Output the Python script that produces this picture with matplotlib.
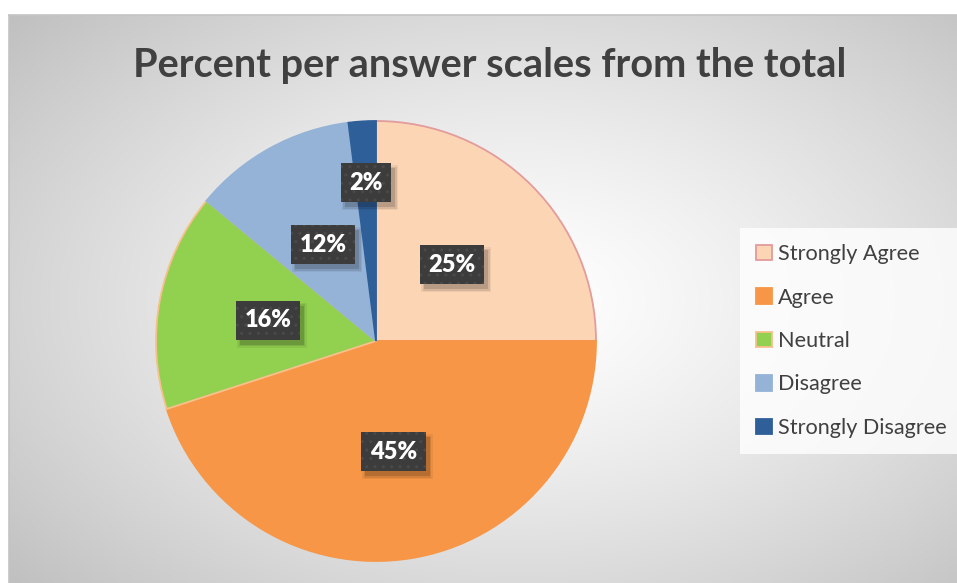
import numpy as np
import matplotlib
matplotlib.use("Agg")
import matplotlib.pyplot as plt
from matplotlib.patches import Rectangle

# ---- data ----
categories = ["Strongly Agree", "Agree", "Neutral", "Disagree", "Strongly Disagree"]
percents = [25, 45, 16, 12, 2]
colors = ["#FCD5B5", "#F79646", "#92D050", "#95B3D7", "#2F5F98"]
edge_colors = ["#E39B9B", "#F79646", "#F8C08C", "#95B3D7", "#2F5F98"]
title = "Percent per answer scales from the total"

# ---- layout ----
label_radii = [0.49, 0.51, 0.50, 0.50, 0.72]
W, H = 957, 583
FONT = "Lato"

fig = plt.figure(figsize=(W / 100, H / 100), dpi=100)
fig.patch.set_facecolor("white")

# background radial gradient panel
x0, ytop = 9, 15
bg = fig.add_axes([x0 / W, 0, 1 - x0 / W, 1 - ytop / H], zorder=0)
xs = np.arange(x0, W)
ys = np.arange(ytop, H)
X, Y = np.meshgrid(xs, ys)
d = np.sqrt(((X - 520) / 480.0) ** 2 + ((Y - 300) / 300.0) ** 2)
v = np.clip(255 - 40 * d ** 1.3, 180, 255) / 255.0
img = np.dstack([v, v, v])
bg.imshow(img, aspect="auto", extent=[0, 1, 0, 1], origin="upper")
bg.set_xlim(0, 1)
bg.set_ylim(0, 1)
bg.axis("off")
fig.add_artist(plt.Line2D([x0 / W, 1], [1 - ytop / H, 1 - ytop / H], color="#C4C4C4", lw=1.2))
fig.add_artist(plt.Line2D([x0 / W, x0 / W], [0, 1 - ytop / H], color="#C4C4C4", lw=1.2))

# pie axes: center (376, 341) px, radius 220 px
cx, cy, R = 376, 341, 220
ax = fig.add_axes([(cx - R) / W, (H - cy - R) / H, 2 * R / W, 2 * R / H], zorder=2)
wedges, _ = ax.pie(percents, colors=colors, startangle=90, counterclock=False,
                   radius=1.0, frame=True, wedgeprops=dict(linewidth=1.3))
for w, ec in zip(wedges, edge_colors):
    w.set_edgecolor(ec)
ax.set_xlim(-1, 1)
ax.set_ylim(-1, 1)
ax.set_aspect("auto")
ax.axis("off")

# data labels
label_texts = []
for w, p, r in zip(wedges, percents, label_radii):
    ang = np.deg2rad((w.theta1 + w.theta2) / 2.0)
    lx, ly = r * np.cos(ang), r * np.sin(ang)
    t = ax.text(lx, ly, f"{p}%", ha="center", va="center",
                fontsize=17, fontweight="heavy", family=FONT, color="white",
                bbox=dict(boxstyle="square,pad=0.36", facecolor="#3C3C3C",
                          edgecolor="#4A4A4A", linewidth=0, hatch=".."), zorder=4)
    label_texts.append(t)

# title
fig.text(490 / W, 1 - 65 / H, title, ha="center", va="center",
         fontsize=28.6, fontweight="bold", family=FONT, color="#404040")

# legend
leg = fig.legend(wedges, categories, loc="center left",
                 bbox_to_anchor=(740 / W, 1 - 341 / H),
                 prop=dict(family=FONT, size=15.6), frameon=True,
                 handlelength=0.72, handleheight=0.72, handletextpad=0.3,
                 labelspacing=1.08, borderpad=0.75, borderaxespad=0,
                 fancybox=False)
leg.get_frame().set_facecolor((1, 1, 1, 0.12))
leg.get_frame().set_edgecolor("none")
for t in leg.get_texts():
    t.set_color("#404040")

# soft drop shadows behind label boxes
fig.canvas.draw()
inv = fig.transFigure.inverted()
for t in label_texts:
    bb = t.get_bbox_patch().get_window_extent()
    for grow, alpha in [(3, 0.06), (1.5, 0.09), (0, 0.14)]:
        (fx0, fy0) = inv.transform((bb.x0 + 4 - grow, bb.y0 - 5 - grow))
        (fx1, fy1) = inv.transform((bb.x1 + 4 + grow, bb.y1 - 5 + grow))
        ax.add_patch(Rectangle((fx0, fy0), fx1 - fx0, fy1 - fy0,
                               transform=fig.transFigure, facecolor="black",
                               edgecolor="none", alpha=alpha, zorder=3.5))

fig.savefig("out.png", dpi=100)
